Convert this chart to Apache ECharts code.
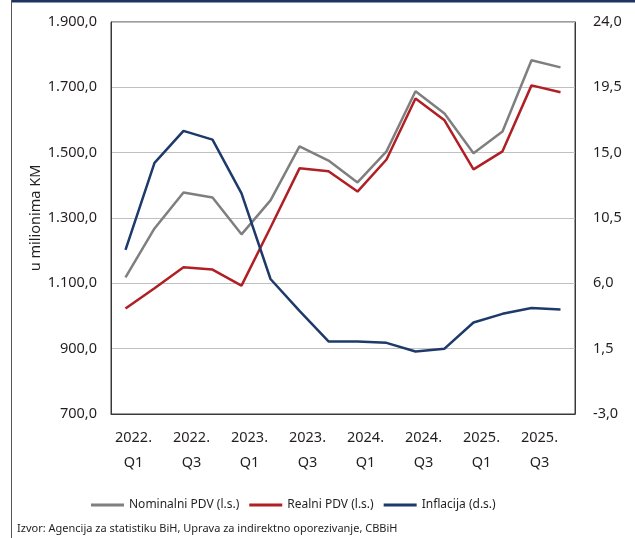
<!DOCTYPE html>
<html>
<head>
  <meta charset="utf-8">
  <style>
    html, body { margin: 0; padding: 0; background: #fff; }
    #main { width: 635px; height: 538px; }
  </style>
</head>
<body>
  <div id="main"></div>
</body>
<script src="https://cdn.jsdelivr.net/npm/echarts@6/dist/echarts.min.js"></script>
<script>
  var quarters = ['2022.\nQ1', '2022.\nQ2', '2022.\nQ3', '2022.\nQ4',
                  '2023.\nQ1', '2023.\nQ2', '2023.\nQ3', '2023.\nQ4',
                  '2024.\nQ1', '2024.\nQ2', '2024.\nQ3', '2024.\nQ4',
                  '2025.\nQ1', '2025.\nQ2', '2025.\nQ3', '2025.\nQ4'];
  var nominalPdv = [1118, 1268, 1378, 1363, 1250, 1354, 1519, 1476, 1409, 1504, 1688, 1620, 1498, 1565, 1783, 1761];
  var realPdv = [1023, 1085, 1149, 1142, 1093, 1271, 1452, 1443, 1381, 1479, 1666, 1599, 1449, 1504, 1706, 1685];
  var inflacija = [8.3, 14.3, 16.5, 15.9, 12.2, 6.3, 4.1, 2.0, 2.0, 1.9, 1.3, 1.5, 3.3, 3.9, 4.3, 4.2];

  var font = 'Noto Sans';
  var txt = '#231f20';

  function leftFmt(v) {
    var s = String(Math.round(v));
    if (s.length > 3) s = s.slice(0, s.length - 3) + '.' + s.slice(s.length - 3);
    return s + ',0';
  }
  function rightFmt(v) {
    return v.toFixed(1).replace('.', ',');
  }

  var chart = echarts.init(document.getElementById('main'));
  chart.setOption({
    animation: false,
    textStyle: { fontFamily: font },
    title: {
      text: 'Izvor: Agencija za statistiku BiH, Uprava za indirektno oporezivanje, CBBiH',
      left: 12,
      top: 518,
      textStyle: { fontSize: 11, fontWeight: 'normal', color: txt, fontFamily: font }
    },
    graphic: [
      { type: 'rect', shape: { x: 11, y: 0, width: 624, height: 2.5 }, style: { fill: '#1d3461' } },
      { type: 'line', shape: { x1: 11.5, y1: 0, x2: 11.5, y2: 538 }, style: { stroke: '#555', lineWidth: 1 } }
    ],
    legend: {
      left: 86,
      top: 494,
      icon: 'rect',
      itemWidth: 33,
      itemHeight: 3,
      itemGap: 10,
      textStyle: { fontSize: 12, color: txt, fontFamily: font },
      data: ['Nominalni PDV (l.s.)', 'Realni PDV (l.s.)', 'Inflacija (d.s.)']
    },
    grid: {
      left: 111, top: 22, right: 60, bottom: 124,
      show: true, borderColor: '#3a3a3a', borderWidth: 1
    },
    xAxis: {
      type: 'category',
      data: quarters,
      boundaryGap: true,
      axisLine: { onZero: false, lineStyle: { color: '#3a3a3a', width: 1 } },
      axisTick: { show: false },
      axisLabel: {
        interval: 1,
        fontSize: 14.5,
        color: txt,
        lineHeight: 25,
        margin: 11,
        padding: [0, 0, 0, 16]
      }
    },
    yAxis: [{
      type: 'value',
      min: 700, max: 1900, interval: 200,
      name: 'u milionima KM',
      nameLocation: 'middle',
      nameGap: 68,
      nameRotate: 90,
      nameMoveOverlap: false,
      nameTextStyle: { fontSize: 14.5, color: txt },
      axisLine: { show: true, lineStyle: { color: '#3a3a3a' } },
      axisTick: { show: false },
      splitLine: { lineStyle: { color: '#c0c0c0', width: 1 } },
      axisLabel: { fontSize: 14.5, color: txt, margin: 14, formatter: leftFmt }
    }, {
      type: 'value',
      min: -3, max: 24, interval: 4.5,
      axisLine: { show: true, lineStyle: { color: '#3a3a3a' } },
      axisTick: { show: false },
      splitLine: { show: false },
      axisLabel: { fontSize: 14.5, color: txt, margin: 18, formatter: rightFmt }
    }],
    series: [{
      name: 'Nominalni PDV (l.s.)',
      type: 'line',
      yAxisIndex: 0,
      data: nominalPdv,
      symbol: 'none',
      color: '#7f7f7f',
      lineStyle: { width: 2.5, color: '#7f7f7f' }
    }, {
      name: 'Realni PDV (l.s.)',
      type: 'line',
      yAxisIndex: 0,
      data: realPdv,
      symbol: 'none',
      color: '#b01f24',
      lineStyle: { width: 2.5, color: '#b01f24' }
    }, {
      name: 'Inflacija (d.s.)',
      type: 'line',
      yAxisIndex: 1,
      data: inflacija,
      symbol: 'none',
      color: '#1d3a6b',
      lineStyle: { width: 2.5, color: '#1d3a6b' }
    }]
  });
</script>
</html>
